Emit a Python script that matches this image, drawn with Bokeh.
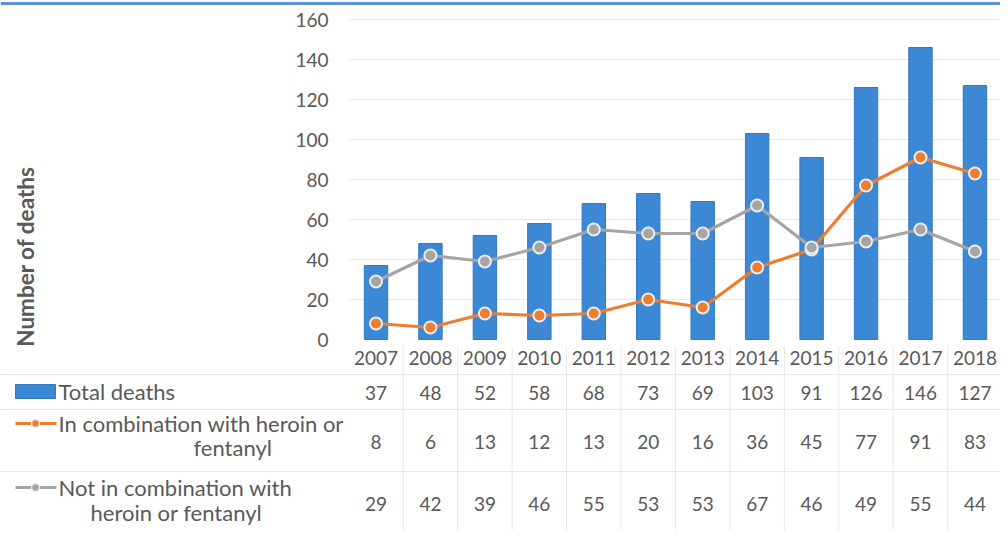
from bokeh.plotting import figure
from bokeh.models import Range1d
from bokeh.core.properties import value
from bokeh.embed import file_html
from bokeh.resources import INLINE

# ---------------- data ----------------
years = ["2007", "2008", "2009", "2010", "2011", "2012",
         "2013", "2014", "2015", "2016", "2017", "2018"]
total_deaths = [37, 48, 52, 58, 68, 73, 69, 103, 91, 126, 146, 127]
with_heroin_fentanyl = [8, 6, 13, 12, 13, 20, 16, 36, 45, 77, 91, 83]
without_heroin_fentanyl = [29, 42, 39, 46, 55, 53, 53, 67, 46, 49, 55, 44]
y_ticks = [0, 20, 40, 60, 80, 100, 120, 140, 160]
series_names = ["Total deaths",
                ["In combination with heroin or", "fentanyl"],
                ["Not in combination with", "heroin or fentanyl"]]

# ---------------- layout (reference pixel geometry) ----------------
W, H = 1000, 530
X0, DX = 375.5, 54.45        # px of first category centre, px per category
Y0, DY = 339.0, 2.0          # px of value 0, px per unit


def ux(px):
    return (px - X0) / DX


def vy(py):
    return (Y0 - py) / DY


BLUE = "#3D88D5"
ORANGE = "#ED7D31"
GRAY = "#A5A5A5"
TXT = "#595959"
FONT = value("Lato")
FS = "19px"
FS_LBL = "22px"
GRID = "#E8E8E8"

p = figure(width=W, height=H,
           x_range=Range1d(ux(0), ux(W)),
           y_range=Range1d(vy(H), vy(0)),
           x_axis_location=None, y_axis_location=None,
           toolbar_location=None, output_backend="svg",
           min_border=0, outline_line_color=None,
           background_fill_color="white", border_fill_color="white")
p.grid.visible = False

idx = list(range(len(years)))

# top rule
p.segment(x0=[ux(0)], y0=[vy(3)], x1=[ux(W)], y1=[vy(3)],
          line_color="#5B8FD6", line_width=3)

# gridlines
gt = y_ticks[1:]
p.segment(x0=[ux(349)] * len(gt), y0=gt, x1=[ux(W)] * len(gt), y1=gt,
          line_color=GRID, line_width=1)

# y tick labels
p.text(x=[ux(328)] * len(y_ticks), y=y_ticks, text=[str(t) for t in y_ticks],
       text_font=FONT, text_font_size=FS, text_color=TXT,
       text_align="right", text_baseline="middle")

# y axis title
p.text(x=[ux(25)], y=[vy(256)], text=["Number of deaths"], angle=1.5708,
       text_font=FONT, text_font_size="22.5px", text_font_style="bold",
       text_color=TXT, text_align="center", text_baseline="middle")

# bars
p.vbar(x=idx, top=total_deaths, bottom=0, width=0.43,
       fill_color=BLUE, line_color="#3079C4", line_width=1)

# lines
for vals, col in ((with_heroin_fentanyl, ORANGE), (without_heroin_fentanyl, GRAY)):
    p.line(x=idx, y=vals, line_color=col, line_width=3.2)
    p.scatter(x=idx, y=vals, size=12, fill_color=col,
              line_color="#EDEDED", line_width=2)

# ---------------- data table ----------------
hl = [374, 409, 471]
p.segment(x0=[ux(0)] * len(hl), y0=[vy(h) for h in hl],
          x1=[ux(W)] * len(hl), y1=[vy(h) for h in hl],
          line_color=GRID, line_width=1)
vb = [i + 0.5 for i in idx[:-1]]
p.segment(x0=vb, y0=[vy(346)] * len(vb), x1=vb, y1=[vy(H)] * len(vb),
          line_color=GRID, line_width=1)

# year labels
p.text(x=idx, y=[vy(357)] * len(idx), text=years,
       text_font=FONT, text_font_size=FS, text_color=TXT,
       text_align="center", text_baseline="middle")

# table values
for vals, py in ((total_deaths, 392), (with_heroin_fentanyl, 441),
                 (without_heroin_fentanyl, 503)):
    p.text(x=idx, y=[vy(py)] * len(idx), text=[str(v) for v in vals],
           text_font=FONT, text_font_size=FS, text_color=TXT,
           text_align="center", text_baseline="middle")

# row labels
p.text(x=[ux(58), ux(58), ux(193), ux(58), ux(90)],
       y=[vy(391), vy(423), vy(447), vy(487), vy(512)],
       text=[series_names[0], series_names[1][0], series_names[1][1],
             series_names[2][0], series_names[2][1]],
       text_font=FONT, text_font_size=FS_LBL, text_color=TXT,
       text_align="left", text_baseline="middle")

# legend keys
p.quad(left=[ux(15)], right=[ux(55)], top=[vy(384)], bottom=[vy(398)],
       fill_color=BLUE, line_color="#3079C4")
for col, py in ((ORANGE, 423), (GRAY, 487)):
    p.segment(x0=[ux(15)], y0=[vy(py)], x1=[ux(56)], y1=[vy(py)],
              line_color=col, line_width=3)
    p.scatter(x=[ux(35)], y=[vy(py)], size=8, fill_color=col,
              line_color="#EDEDED", line_width=1.5)

open("out.html", "w").write(file_html(p, INLINE))
